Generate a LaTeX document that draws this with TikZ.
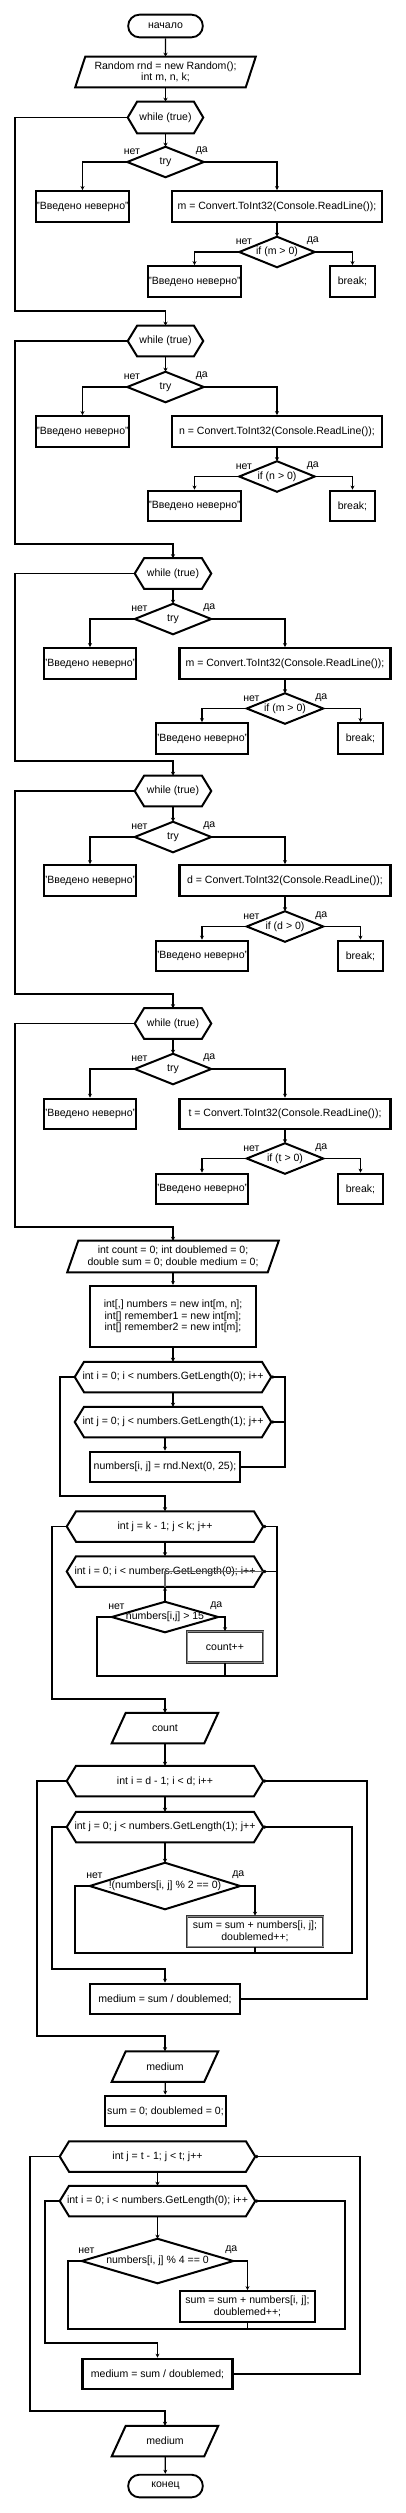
\documentclass[tikz,border=0pt]{standalone}
\usepackage{fontspec}
\setmainfont{Liberation Sans}
\usetikzlibrary{arrows.meta,shapes.misc}

\begin{document}
\begin{tikzpicture}[
  x=0.75pt, y=-0.75pt,
  font=\fontsize{7.9}{8.6}\selectfont,
  term/.style={draw, rounded rectangle, line width=1.4pt, minimum width=56pt, minimum height=17pt, inner sep=0pt},
  proc/.style={draw, rectangle, line width=1.6pt, align=center, minimum height=23pt, inner xsep=0pt, inner ysep=1pt},
  gproc/.style={proc, draw=black!80, line width=0.7pt, double=black!45, double distance=0.6pt},
  hexa/.style={align=center, minimum height=22.5pt, inner sep=0pt},
  io/.style={align=center, minimum height=22.5pt, inner sep=0pt},
  cond/.style={align=center, minimum height=22.5pt, inner sep=0pt},
  outline/.style={line width=1.5pt, line join=miter},
  flow/.style={-{Stealth[length=3pt,width=3pt]}, line width=0.9pt},
  loopin/.style={-{Circle[length=2.4pt]}, line width=0.9pt},
  wire/.style={line width=0.9pt},
  lblno/.style={anchor=south, xshift=3.5pt, yshift=4pt, inner sep=1pt},
  lblyes/.style={anchor=south, xshift=-1.5pt, yshift=4pt, inner sep=1pt}
]
\useasboundingbox (0,0) rectangle (405,2513);

\node[term] (start) at (165.5,26) {начало};
\node[io, minimum width=135pt] (init) at (165.5,72) {Random rnd = new Random();\\int m, n, k;};

% input of m
\node[hexa, minimum width=56.25pt, minimum height=23.25pt] (w1) at (165.5,117.5) {while (true)};
\node[cond, minimum width=57pt] (t1) at (165.5,162) {try};
\node[proc, minimum width=68.25pt] (e1) at (82.5,206.5) {"Введено неверно"};
\node[proc, minimum width=157.5pt] (a1) at (277,206.5) {m = Convert.ToInt32(Console.ReadLine());};
\node[cond, minimum width=56.25pt] (c1) at (277,252) {if (m > 0)};
\node[proc, minimum width=68.25pt] (n1) at (194.5,281.5) {"Введено неверно"};
\node[proc, minimum width=33.75pt] (b1) at (352.5,281.5) {break;};

% input of n
\node[hexa, minimum width=56.25pt] (w2) at (165.5,341) {while (true)};
\node[cond, minimum width=57pt] (t2) at (165.5,387) {try};
\node[proc, minimum width=68.25pt] (e2) at (82.5,431.5) {"Введено неверно"};
\node[proc, minimum width=157.5pt] (a2) at (277,431.5) {n = Convert.ToInt32(Console.ReadLine());};
\node[cond, minimum width=56.25pt] (c2) at (277,476.5) {if (n > 0)};
\node[proc, minimum width=68.25pt] (n2) at (194.5,506) {"Введено неверно"};
\node[proc, minimum width=33.75pt] (b2) at (352.5,506) {break;};

% input of m (again)
\node[hexa, minimum width=57pt] (w3) at (173,573.5) {while (true)};
\node[cond, minimum width=57pt] (t3) at (173,619) {try};
\node[proc, minimum width=67.5pt] (e3) at (90,663.5) {"Введено неверно"};
\node[proc, minimum width=158.25pt] (a3) at (285,663.5) {m = Convert.ToInt32(Console.ReadLine());};
\node[cond, minimum width=57pt] (c3) at (285,708.5) {if (m > 0)};
\node[proc, minimum width=67.5pt] (n3) at (202,738.5) {"Введено неверно"};
\node[proc, minimum width=33.75pt] (b3) at (360.5,738.5) {break;};

% input of d
\node[hexa, minimum width=57pt] (w4) at (173,791) {while (true)};
\node[cond, minimum width=57pt] (t4) at (173,837) {try};
\node[proc, minimum width=67.5pt] (e4) at (90,880.5) {"Введено неверно"};
\node[proc, minimum width=158.25pt] (a4) at (285,880.5) {d = Convert.ToInt32(Console.ReadLine());};
\node[cond, minimum width=57pt] (c4) at (285,926.5) {if (d > 0)};
\node[proc, minimum width=67.5pt] (n4) at (202,956) {"Введено неверно"};
\node[proc, minimum width=33.75pt] (b4) at (360.5,956) {break;};

% input of t
\node[hexa, minimum width=57pt] (w5) at (173,1023.5) {while (true)};
\node[cond, minimum width=57pt] (t5) at (173,1069) {try};
\node[proc, minimum width=67.5pt] (e5) at (90,1114) {"Введено неверно"};
\node[proc, minimum width=158.25pt] (a5) at (285,1114) {t = Convert.ToInt32(Console.ReadLine());};
\node[cond, minimum width=57pt] (c5) at (285,1158.5) {if (t > 0)};
\node[proc, minimum width=67.5pt] (n5) at (202,1189) {"Введено неверно"};
\node[proc, minimum width=33.75pt] (b5) at (360.5,1189) {break;};

% arrays
\node[io, minimum width=158.25pt, minimum height=23.25pt] (vars) at (173,1256.5) {int count = 0; int doublemed = 0;\\double sum = 0; double medium = 0;};
\node[proc, minimum width=124.5pt, minimum height=45.75pt] (arrs) at (173,1316.5) {int[,] numbers = new int[m, n];\\int[] remember1 = new int[m];\\int[] remember2 = new int[m];};
\node[hexa, minimum width=147pt] (f1) at (173,1377) {int i = 0; i < numbers.GetLength(0); i++};
\node[hexa, minimum width=147pt] (f2) at (173,1422) {int j = 0; j < numbers.GetLength(1); j++};
\node[proc, minimum width=112.5pt] (fill) at (165,1467) {numbers[i, j] = rnd.Next(0, 25);};

% count
\node[hexa, minimum width=147pt] (f3) at (165,1526.5) {int j = k - 1; j < k; j++};
\node[hexa, minimum width=147pt] (f4) at (165,1571.5) {int i = 0; i < numbers.GetLength(0); i++};
\node[cond, minimum width=79.5pt] (d1) at (165,1617) {numbers[i,j] > 15};
\node[gproc, minimum width=57pt] (cnt) at (225,1647) {count++};
\node[io, minimum width=79.5pt] (outc) at (165,1728) {count};

% first medium
\node[hexa, minimum width=147pt] (f5) at (165,1781) {int i = d - 1; i < d; i++};
\node[hexa, minimum width=147pt] (f6) at (165,1827) {int j = 0; j < numbers.GetLength(1); j++};
\node[cond, minimum width=112.5pt, minimum height=34.5pt] (d2) at (165,1886) {!(numbers[i, j] \% 2 == 0)};
\node[gproc, minimum width=102pt] (acc1) at (255,1931.5) {sum = sum + numbers[i, j];\\doublemed++;};
\node[proc, minimum width=112.5pt] (avg1) at (165,1999) {medium = sum / doublemed;};
\node[io, minimum width=79.5pt] (outm1) at (165,2066.5) {medium};
\node[proc, minimum width=90.75pt] (reset) at (165.5,2111) {sum = 0; doublemed = 0;};

% second medium
\node[hexa, minimum width=146.25pt] (f7) at (157.5,2156.5) {int j = t - 1; j < t; j++};
\node[hexa, minimum width=146.25pt] (f8) at (157.5,2201) {int i = 0; i < numbers.GetLength(0); i++};
\node[cond, minimum width=113.25pt, minimum height=33pt] (d3) at (157.5,2261) {numbers[i, j] \% 4 == 0};
\node[proc, minimum width=101.25pt] (acc2) at (247.5,2306.5) {sum = sum + numbers[i, j];\\doublemed++;};
\node[proc, minimum width=112.5pt] (avg2) at (157.5,2374) {medium = sum / doublemed;};
\node[io, minimum width=79.5pt] (outm2) at (165,2441) {medium};
\node[term] (stop) at (165.5,2486) {конец};

% outlines
\foreach \n in {w1,w2,w3,w4,w5,f1,f2,f3,f4,f5,f6,f7,f8}
  \draw[outline] (\n.west) -- ([xshift=7pt]\n.north west) -- ([xshift=-7pt]\n.north east)
    -- (\n.east) -- ([xshift=-7pt]\n.south east) -- ([xshift=7pt]\n.south west) -- cycle;
\foreach \n in {t1,t2,t3,t4,t5,c1,c2,c3,c4,c5,d1,d2,d3}
  \draw[outline] (\n.west) -- (\n.north) -- (\n.east) -- (\n.south) -- cycle;
\foreach \n/\s in {init/7.5pt,vars/8.25pt,outc/10.5pt,outm1/10.5pt,outm2/10.5pt}
  \draw[outline] (\n.south west) -- ([xshift=\s]\n.north west) -- (\n.north east)
    -- ([xshift=-\s]\n.south east) -- cycle;

% connectors
\draw[flow] (start) -- (init);
\draw[flow] (init) -- (w1);
\draw[flow] (w1) -- (t1);
\draw[flow] (t1.west) node[lblno] {нет} -| (e1.north);
\draw[flow] (t1.east) node[lblyes] {да} -| (a1.north);
\draw[flow] (a1) -- (c1);
\draw[flow] (c1.west) node[lblno] {нет} -| (n1.north);
\draw[flow] (c1.east) node[lblyes] {да} -| (b1.north);
\draw[flow] (w1.west) -| (15,311) -| (w2.north);

\draw[flow] (w2) -- (t2);
\draw[flow] (t2.west) node[lblno] {нет} -| (e2.north);
\draw[flow] (t2.east) node[lblyes] {да} -| (a2.north);
\draw[flow] (a2) -- (c2);
\draw[flow] (c2.west) node[lblno] {нет} -| (n2.north);
\draw[flow] (c2.east) node[lblyes] {да} -| (b2.north);
\draw[flow] (w2.west) -| (15,544) -| (w3.north);

\draw[flow] (w3) -- (t3);
\draw[flow] (t3.west) node[lblno] {нет} -| (e3.north);
\draw[flow] (t3.east) node[lblyes] {да} -| (a3.north);
\draw[flow] (a3) -- (c3);
\draw[flow] (c3.west) node[lblno] {нет} -| (n3.north);
\draw[flow] (c3.east) node[lblyes] {да} -| (b3.north);
\draw[flow] (w3.west) -| (15,761) -| (w4.north);

\draw[flow] (w4) -- (t4);
\draw[flow] (t4.west) node[lblno] {нет} -| (e4.north);
\draw[flow] (t4.east) node[lblyes] {да} -| (a4.north);
\draw[flow] (a4) -- (c4);
\draw[flow] (c4.west) node[lblno] {нет} -| (n4.north);
\draw[flow] (c4.east) node[lblyes] {да} -| (b4.north);
\draw[flow] (w4.west) -| (15,994) -| (w5.north);

\draw[flow] (w5) -- (t5);
\draw[flow] (t5.west) node[lblno] {нет} -| (e5.north);
\draw[flow] (t5.east) node[lblyes] {да} -| (a5.north);
\draw[flow] (a5) -- (c5);
\draw[flow] (c5.west) node[lblno] {нет} -| (n5.north);
\draw[flow] (c5.east) node[lblyes] {да} -| (b5.north);
\draw[flow] (w5.west) -| (15,1227) -| (vars.north);

\draw[flow] (vars) -- (arrs);
\draw[flow] (arrs) -- (f1);
\draw[flow] (f1) -- (f2);
\draw[flow] (fill.north |- f2.south) -- (fill.north);
\draw[loopin] (fill.east) -| (285,1422) |- (f1.east);
\draw[loopin] (285,1422) -- (f2.east);
\draw[flow] (f1.west) -| (60,1496) -| (f3.north);

\draw[flow] (f3) -- (f4);
\draw[flow] (d1.north) -- (f4.south);
\draw[wire, black!60] (f4.south) -- (f4.center) -- (f4.east);
\draw[loopin] (d1.west) node[lblno] {нет} -| (97,1676) -| (277,1571.5) |- (f3.east);
\draw[loopin] (277,1571.5) -- (f4.east);
\draw[flow] (d1.east) node[lblyes] {да} -| (cnt.north);
\draw[wire] (cnt.south) -- (225,1676);
\draw[flow] (f3.west) -| (52,1699) -| (outc.north);

\draw[flow] (outc) -- (f5);
\draw[flow] (f5) -- (f6);
\draw[flow] (f6) -- (d2);
\draw[loopin] (d2.west) node[lblno] {нет} -| (75,1953) -- (352,1953) |- (f6.east);
\draw[flow] (d2.east) node[lblyes] {да} -| (acc1.north);
\draw[wire] (acc1.south) -- (255,1953);
\draw[flow] (f6.west) -| (52,1969) -| (avg1.north);
\draw[loopin] (avg1.east) -| (367,1781) -- (f5.east);
\draw[flow] (f5.west) -| (37,2036) -| (outm1.north);
\draw[flow] (outm1) -- (reset);

\draw[flow] (f7) -- (f8);
\draw[flow] (f8) -- (d3);
\draw[loopin] (d3.west) node[lblno] {нет} -| (68,2329) -- (345,2329) |- (f8.east);
\draw[flow] (d3.east) node[lblyes] {да} -| (acc2.north);
\draw[wire] (acc2.south) -- (247.5,2329);
\draw[flow] (f8.west) -| (45,2343) -| (avg2.north);
\draw[loopin] (avg2.east) -| (360,2156.5) -- (f7.east);
\draw[flow] (f7.west) -| (30,2411) -| (outm2.north);
\draw[flow] (outm2) -- (stop);
\end{tikzpicture}
\end{document}
